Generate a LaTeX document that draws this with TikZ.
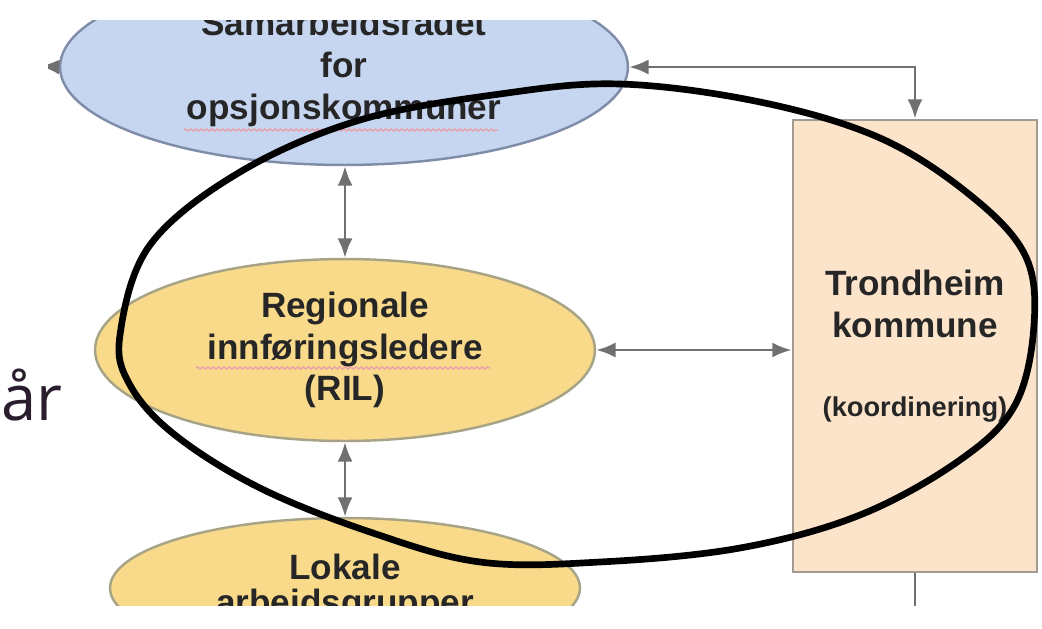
\documentclass[tikz,border=0pt]{standalone}
\usepackage{fontspec}
\setmainfont{Liberation Sans}
\newfontfamily\slidefont{Open Sans}
\usepackage{tikz}
\usetikzlibrary{arrows.meta,shapes.geometric,decorations.pathmorphing}
\definecolor{blaa}{HTML}{C6D6F1}
\definecolor{blaakant}{HTML}{7F8DA8}
\definecolor{gul}{HTML}{F8DA8A}
\definecolor{gulkant}{HTML}{A7A386}
\definecolor{fersken}{HTML}{FCE4CB}
\definecolor{ferskenkant}{HTML}{A39A92}
\definecolor{pil}{HTML}{707070}
\definecolor{skrift}{HTML}{262626}
\definecolor{lilla}{HTML}{2A1D2E}
\definecolor{stave}{HTML}{E8A2AC}
\tikzset{
  lab/.style={text=skrift, font=\bfseries\fontsize{20}{23.8}\selectfont, align=center},
  blaaEllipse/.style={ellipse, fill=blaa, draw=blaakant, line width=1.4pt, inner sep=0pt},
  gulEllipse/.style={ellipse, fill=gul, draw=gulkant, line width=1.4pt, inner sep=0pt},
  boks/.style={rectangle, fill=fersken, draw=ferskenkant, line width=1.6pt, inner sep=0pt},
  dobbel/.style={draw=pil, line width=1.5pt, {Latex[length=11pt,width=8.5pt]}-{Latex[length=11pt,width=8.5pt]}},
  enkel/.style={draw=pil, line width=1.5pt, -{Latex[length=11pt,width=8.5pt]}},
  haandring/.style={draw=black, line width=3.8pt, line join=round},
  stavefeil/.style={draw=stave, line width=0.8pt, decorate, decoration={snake, amplitude=0.6pt, segment length=3pt}}
}

\begin{document}
\begin{tikzpicture}[x=0.02cm, y=-0.02cm]
\useasboundingbox (0,0) rectangle (1042,629);

\begin{scope}
\clip (48,20) rectangle (1042,605);
\node[blaaEllipse, lab, minimum width=11.36cm, minimum height=3.92cm] (samarbeid) at (344,67)
  {Samarbeidsrådet\\for\\opsjonskommuner};
\node[gulEllipse, lab, minimum width=10cm, minimum height=3.64cm] (ril) at (345,350)
  {Regionale\\innføringsledere\\(RIL)};
\node[gulEllipse, lab, font=\bfseries\fontsize{20}{20}\selectfont, minimum width=9.4cm, minimum height=2.8cm] (lokale) at (345,588)
  {Lokale\\arbeidsgrupper};
\node[boks, lab, minimum width=4.88cm, minimum height=9.04cm] (trondheim) at (915,346)
  {Trondheim\\kommune\\[21pt]{\fontsize{15.5}{18}\selectfont(koordinering)}};

\coordinate (venstre) at (40,66);
\coordinate (ned) at (915,640);

\draw[dobbel] (ril.north |- samarbeid.south) -- (ril.north);
\draw[dobbel] (ril.south) -- (lokale.north);
\draw[dobbel] (ril.east) -- (ril.east -| trondheim.west);
\draw[dobbel] (samarbeid.east) -| (trondheim.north);
\draw[enkel] (samarbeid.west) -- (venstre);
\draw[draw=pil, line width=1.5pt] (trondheim.south) -- (ned);

\draw[stavefeil] (184,130) -- (498,130);
\draw[stavefeil] (196,368) -- (490,368);
\end{scope}

\draw[haandring] plot[smooth cycle, tension=0.6] coordinates {
  (120,335) (150,245) (240,172) (360,120) (500,94) (620,84) (760,102)
  (880,138) (970,195) (1025,255) (1034,325) (1015,405) (960,460)
  (860,515) (740,548) (600,562) (480,562) (370,532) (260,488)
  (175,435) (130,385)};

\node[anchor=base west, inner sep=0pt, text=lilla, font=\slidefont\fontsize{36}{43}\selectfont] (slidetekst) at (1,420) {år};
\end{tikzpicture}
\end{document}
